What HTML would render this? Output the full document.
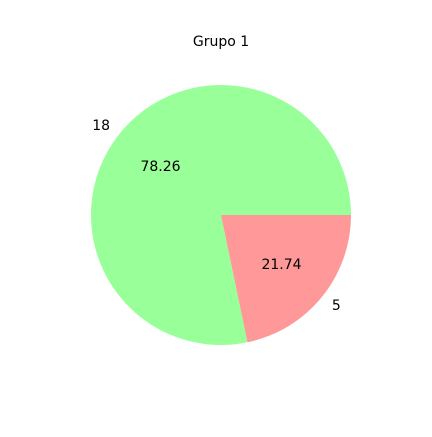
<!DOCTYPE html>
<html><head><meta charset="utf-8"><style>
html,body{margin:0;padding:0;background:#fff;}
text{font-family:"DejaVu Sans","Liberation Sans",sans-serif;font-size:14px;fill:#000;}
</style></head><body>
<svg id="chart" width="432" height="432">
<rect width="432" height="432" fill="#fff"/>
<text x="221" y="46" text-anchor="middle">Grupo 1</text>
<g id="slices"></g>
</svg>
<script>
const labels = ["18", "5"];
const values = [18, 5];
const colors = ["#99ff99", "#ff9999"];
const cx = 221, cy = 215, r = 130;
const svg = document.getElementById('slices');
const NS = 'http://www.w3.org/2000/svg';
const total = values.reduce((a, b) => a + b, 0);
let start = 0;
function pt(deg, rad) {
  const a = deg * Math.PI / 180;
  return [cx + rad * Math.cos(a), cy - rad * Math.sin(a)];
}
values.forEach((v, i) => {
  const sweep = v / total * 360;
  const end = start + sweep;
  const p1 = pt(start, r), p2 = pt(end, r);
  const large = sweep > 180 ? 1 : 0;
  const path = document.createElementNS(NS, 'path');
  path.setAttribute('d', `M${cx},${cy} L${p1[0]},${p1[1]} A${r},${r} 0 ${large} 0 ${p2[0]},${p2[1]} Z`);
  path.setAttribute('fill', colors[i]);
  
  
  svg.appendChild(path);
  const mid = start + sweep / 2;
  const lp = pt(mid, r * 1.1);
  const lab = document.createElementNS(NS, 'text');
  const c = Math.cos(mid * Math.PI / 180);
  lab.setAttribute('x', lp[0]);
  lab.setAttribute('y', lp[1] + 5);
  lab.setAttribute('text-anchor', c < 0 ? 'end' : 'start');
  lab.textContent = labels[i];
  
  
  svg.appendChild(lab);
  const pp = pt(mid, r * 0.6);
  const pct = document.createElementNS(NS, 'text');
  pct.setAttribute('x', pp[0]);
  pct.setAttribute('y', pp[1] + 5);
  pct.setAttribute('text-anchor', 'middle');
  pct.textContent = (v / total * 100).toFixed(2);
  
  
  svg.appendChild(pct);
  start = end;
});
</script>
</body></html>
